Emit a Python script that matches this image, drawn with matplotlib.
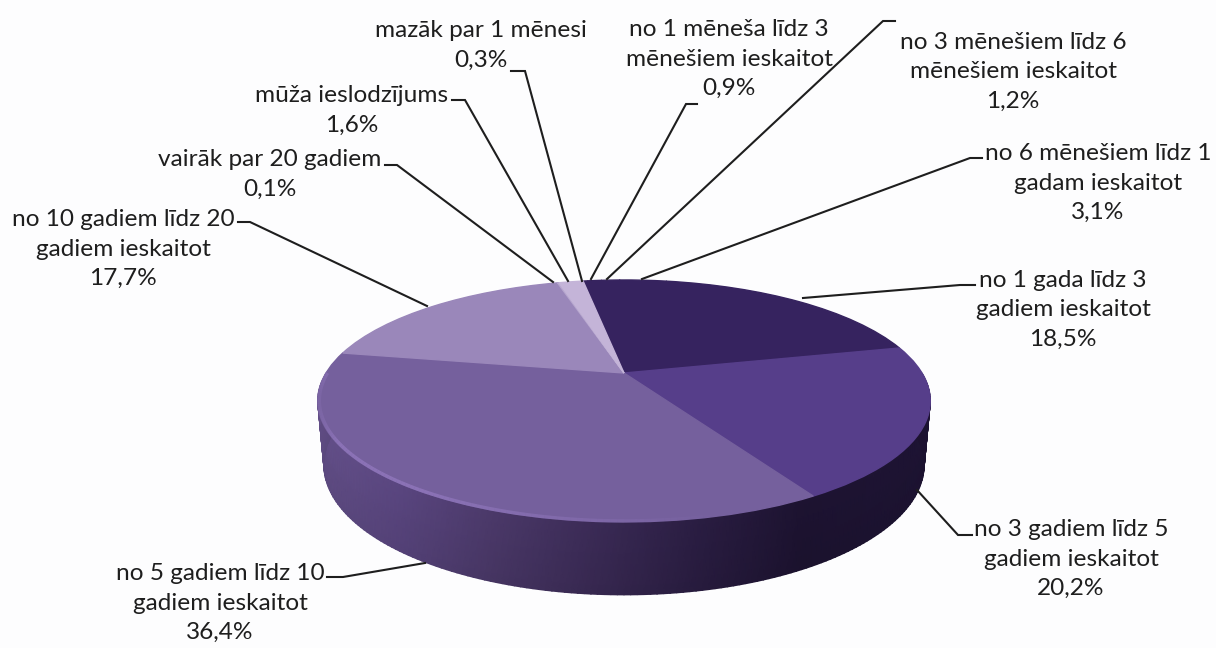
import matplotlib
matplotlib.use('Agg')
import matplotlib.pyplot as plt
from matplotlib.collections import LineCollection
from matplotlib.transforms import Transform
import numpy as np

names = ['mazāk par 1 mēnesi', 'no 1 mēneša līdz 3\nmēnešiem ieskaitot',
         'no 3 mēnešiem līdz 6\nmēnešiem ieskaitot', 'no 6 mēnešiem līdz 1\ngadam ieskaitot',
         'no 1 gada līdz 3\ngadiem ieskaitot', 'no 3 gadiem līdz 5\ngadiem ieskaitot',
         'no 5 gadiem līdz 10\ngadiem ieskaitot', 'no 10 gadiem līdz 20\ngadiem ieskaitot',
         'vairāk par 20 gadiem', 'mūža ieslodzījums']
values = [0.3, 0.9, 1.2, 3.1, 18.5, 20.2, 36.4, 17.7, 0.1, 1.6]

colors = ['#36235f', '#36235f', '#36235f', '#36235f', '#36235f',
          '#563e8a', '#75609d', '#9a87ba', '#b5a5cd', '#c4b4d8']

# label centres and leader lines, in pixels of the 1216x648 picture
label_pos = [(481, 45), (729, 59), (1013, 72), (1098, 183), (1063, 310),
             (1071, 559), (220, 603), (123, 249), (270, 174), (352, 110)]
leaders = [[(511, 71), (525, 71), (582, 281)],
           [(697, 104), (686, 104), (591, 279)],
           [(895, 21), (883, 21), (607, 279)],
           [(982, 158), (970, 158), (642, 279)],
           [(975, 285), (960, 285), (803, 298)],
           [(972, 535), (958, 535), (917, 490)],
           [(327, 577), (343, 577), (425, 563)],
           [(238, 222), (250, 222), (427, 306)],
           [(385, 165), (397, 165), (553, 282)],
           [(452, 100), (465, 100), (568, 281)]]

# side wall shade along the picture's x axis
wall_x = [320, 400, 500, 600, 700, 800, 930]
wall_rgb = ['#64508a', '#5a4680', '#4a3868', '#3a2a55', '#2a1d42', '#1d1331', '#1e1434']

X0, Y0, A, B, K = 624, 373, 114.5, 298, 0.231


def project(u, v):
    w = 1 + K * v
    return X0 + B * u / w, Y0 - A * v / w


class Persp(Transform):
    input_dims = 2
    output_dims = 2
    is_separable = False

    def transform_non_affine(self, xy):
        xy = np.asarray(xy, dtype=float)
        x, y = project(xy[:, 0], xy[:, 1])
        return np.column_stack([x, y])


plt.rcParams['font.family'] = ['Lato', 'DejaVu Sans']

fig = plt.figure(figsize=(12.16, 6.48), dpi=100, facecolor='#fdfdfe')
ax = fig.add_axes([0, 0, 1, 1])

wedges, _ = ax.pie(values, colors=colors, startangle=99.7, counterclock=False, radius=1)
ax.set_aspect('auto')
ax.set_xlim(0, 1216)
ax.set_ylim(648, 0)
ax.axis('off')

persp = Persp()
for w in wedges:
    w.set_transform(persp + ax.transData)
    w.set_edgecolor(w.get_facecolor())
    w.set_linewidth(1.0)
    w.set_zorder(3)

# side wall, between the top rim and a slightly narrower bottom rim
theta = np.radians(np.linspace(180, 360, 181))
tx, ty = project(np.cos(theta), np.sin(theta))
t = np.array([0, 0.5, 0.93, 1.0])[:, None]
wx = tx + t * ((X0 + (tx - X0) * 0.98) - tx)
wy = ty + t * ((465 + (ty - 401) * 130 / 121) - ty)

base = np.array([matplotlib.colors.to_rgb(c) for c in wall_rgb])
rgb = np.stack([np.interp(wx, wall_x, base[:, i]) for i in range(3)], axis=-1)
rgb = np.clip(rgb * (1 - 0.08 * t[..., None]), 0, 1)
ax.pcolormesh(wx, wy, rgb, shading='gouraud', zorder=2)

# lighter bevel on the rim, fading out towards the right
hx, hy = project(0.995 * np.cos(theta), 0.995 * np.sin(theta))
pts = np.column_stack([hx, hy])
segs = np.stack([pts[:-1], pts[1:]], axis=1)
fade = np.clip((720 - hx[:-1]) / 300, 0, 1) * np.clip((hx[:-1] - 312) / 25, 0, 1)
seg_colors = np.zeros((len(segs), 4))
seg_colors[:, :3] = matplotlib.colors.to_rgb('#9a7fc8')
seg_colors[:, 3] = 0.6 * fade
ax.add_collection(LineCollection(segs, colors=seg_colors, linewidths=2.5, zorder=3.5, capstyle='butt'))

for line in leaders:
    xs, ys = zip(*line)
    ax.plot(xs, ys, color='#1e1e1e', lw=1.5, solid_joinstyle='miter', zorder=4)

for name, v, (x, y) in zip(names, values, label_pos):
    pct = f'{v:.1f}'.replace('.', ',') + '%'
    ax.text(x, y, name + '\n' + pct, ha='center', va='center', fontsize=17.6,
            color='#1e1e1e', linespacing=1.52, zorder=5)

fig.savefig('out.png', dpi=100, facecolor=fig.get_facecolor())
